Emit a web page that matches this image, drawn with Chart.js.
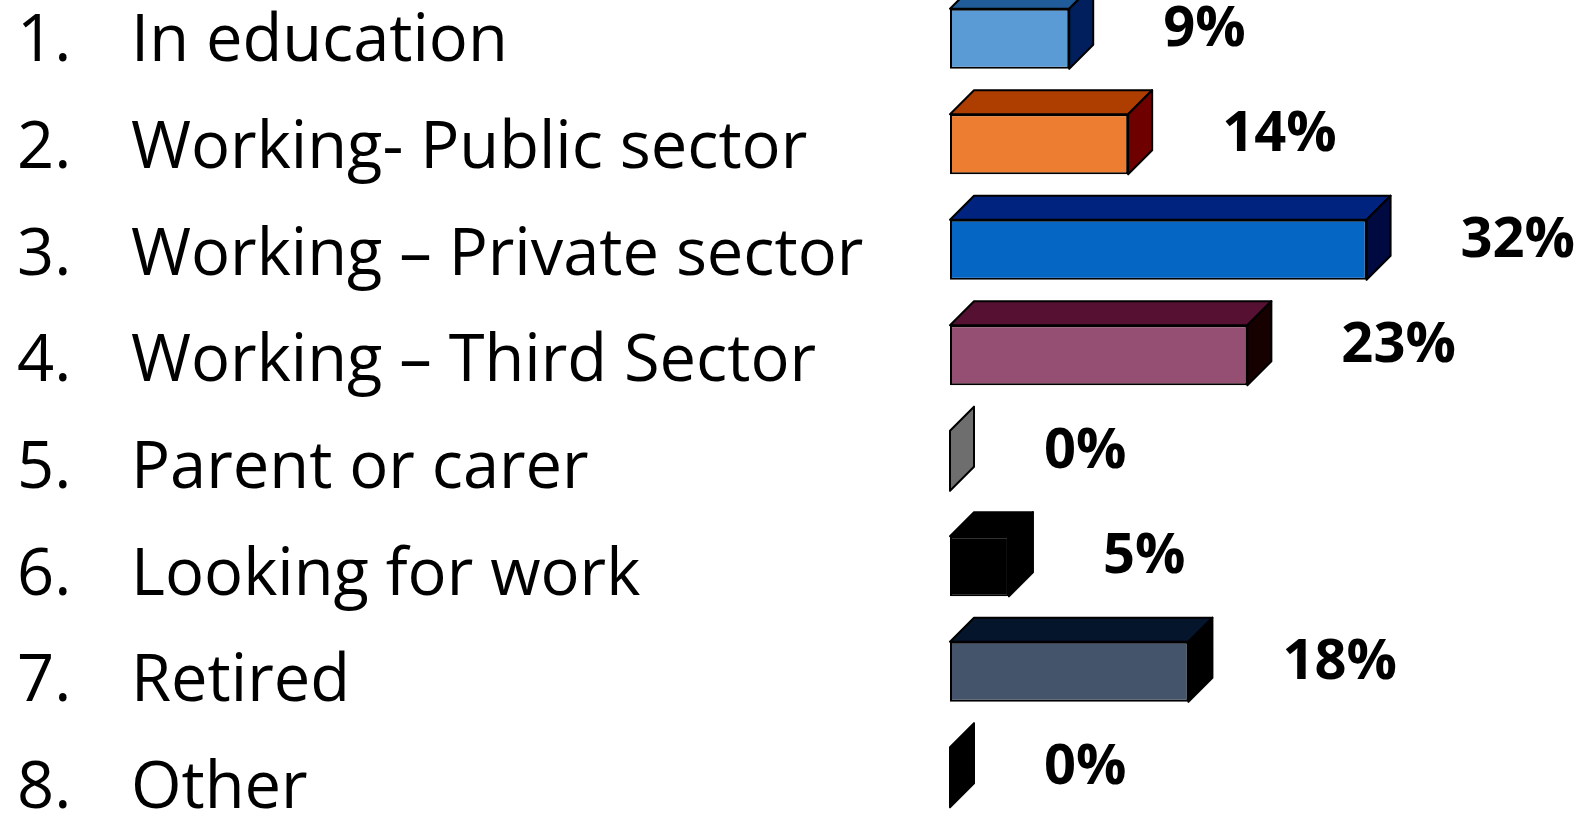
<!DOCTYPE html>
<html>
<head>
<meta charset="utf-8">
<script src="https://cdn.jsdelivr.net/npm/chart.js@4/dist/chart.umd.min.js"></script>
<style>
  html, body { margin: 0; padding: 0; background: #ffffff; overflow: hidden; }
  #wrap { position: absolute; left: 0; top: -40px; width: 1585px; height: 900px; }
</style>
</head>
<body>
<div id="wrap"><canvas id="statusChart"></canvas></div>
<script>
// Categories and values (share of respondents, %)
const categories = [
    "In education",
    "Working- Public sector",
    "Working \u2013 Private sector",
    "Working \u2013 Third Sector",
    "Parent or carer",
    "Looking for work",
    "Retired",
    "Other"
];
const percentages = [9.1, 13.6, 31.8, 22.7, 0, 4.5, 18.2, 0];

// Face colours for the 3D boxes
const frontColors = ["#5b9bd5", "#ed7d31", "#0566c4", "#954f72", "#a5a5a5", "#000000", "#44546a", "#000000"];
const topColors   = ["#1f5c99", "#ae3e00", "#00237f", "#561032", "#6e6e6e", "#000000", "#05152b", "#000000"];
const sideColors  = ["#001f5c", "#6e0000", "#000a40", "#170000", "#6e6e6e", "#000000", "#000000", "#000000"];

const FONT = "'Open Sans', sans-serif";
const DEPTH = 24;

// Draws top/side faces, value labels and the numbered category list
const boxPlugin = {
    id: "box3d",
    afterDatasetsDraw(chart) {
        const ctx = chart.ctx;
        const meta = chart.getDatasetMeta(0);
        ctx.save();
        ctx.lineWidth = 2;
        ctx.lineJoin = "round";
        ctx.strokeStyle = "#000000";
        meta.data.forEach((el, i) => {
            const left = el.base, right = el.x;
            const top = el.y - el.height / 2, bottom = el.y + el.height / 2;
            if (right - left > 0.5) {
                ctx.beginPath();
                ctx.moveTo(left, top);
                ctx.lineTo(left + DEPTH, top - DEPTH);
                ctx.lineTo(right + DEPTH, top - DEPTH);
                ctx.lineTo(right, top);
                ctx.closePath();
                ctx.fillStyle = topColors[i];
                ctx.fill();
                ctx.stroke();
            }
            ctx.beginPath();
            ctx.moveTo(right, top);
            ctx.lineTo(right + DEPTH, top - DEPTH);
            ctx.lineTo(right + DEPTH, bottom - DEPTH);
            ctx.lineTo(right, bottom);
            ctx.closePath();
            ctx.fillStyle = sideColors[i];
            ctx.fill();
            ctx.stroke();

            // value label
            ctx.fillStyle = "#000000";
            ctx.font = "bold 56px " + FONT;
            ctx.textAlign = "left";
            ctx.textBaseline = "middle";
            ctx.fillText(Math.round(percentages[i]) + "%", right + 94, el.y - 9);
        });

        // numbered list on the left (text box sits slightly lower than the bars)
        const yScale = chart.scales.y;
        ctx.fillStyle = "#000000";
        ctx.font = "65px " + FONT;
        ctx.textAlign = "left";
        ctx.textBaseline = "middle";
        categories.forEach((c, i) => {
            const y = yScale.getPixelForTick(i) + 4 + i * 1.2;
            ctx.fillText((i + 1) + ".", 17, y);
            ctx.fillText(c, 131, y);
        });
        ctx.restore();
    }
};

new Chart(document.getElementById("statusChart"), {
    type: "bar",
    data: {
        labels: categories,
        datasets: [{
            data: percentages,
            backgroundColor: frontColors,
            borderColor: "#000000",
            borderWidth: 2,
            borderSkipped: false,
            barPercentage: 0.57,
            categoryPercentage: 1
        }]
    },
    options: {
        indexAxis: "y",
        responsive: true,
        maintainAspectRatio: false,
        animation: false,
        devicePixelRatio: 1,
        layout: { padding: { left: 131, right: 111, top: 26, bottom: 30 } },
        plugins: { legend: { display: false }, tooltip: { enabled: false } },
        scales: {
            x: { display: false, min: 0, max: 40 },
            y: {
                grid: { display: false },
                border: { display: false },
                ticks: { display: false },
                afterFit(scale) { scale.width = 950 - 131; }
            }
        }
    },
    plugins: [boxPlugin]
});
</script>
</body>
</html>
